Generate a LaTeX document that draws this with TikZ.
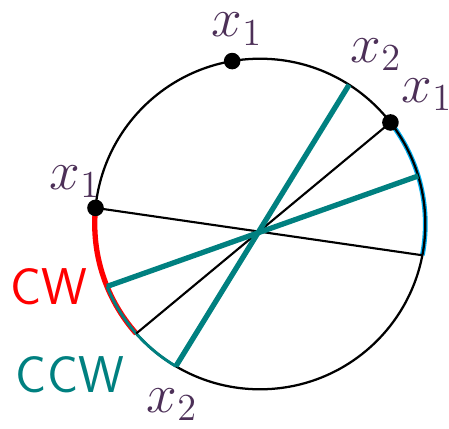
\documentclass[tikz,border=0pt]{standalone}
\usetikzlibrary{positioning}
\definecolor{ptpurple}{RGB}{77,48,88}

\begin{document}
\begin{tikzpicture}[
  ptlabel/.style={font=\huge, text=ptpurple, inner sep=1pt},
  dirlabel/.style={font=\fontsize{19.5}{23}\selectfont\sffamily, inner sep=1pt},
  blackdia/.style={line width=0.8pt},
  tealdia/.style={teal, line width=2pt},
  ptdot/.style={circle, fill=black, inner sep=0pt, minimum size=0.22cm}
]
\def\R{2.19}
\useasboundingbox (-3.445,-2.703) rectangle (2.504,2.968);

% 円周上の点
\coordinate (a1) at (174.4:\R);
\coordinate (b1) at (-10.9:\R);
\coordinate (a2) at (99.7:\R);
\coordinate (a3) at (37.9:\R);
\coordinate (b3) at (221.5:\R);
\coordinate (t1) at (57.4:\R);
\coordinate (s1) at (239.4:\R);
\coordinate (t2) at (16.9:\R);
\coordinate (s2) at (202.2:\R);

\draw[cyan, line width=1.8pt] (a3) arc[start angle=37.9, end angle=-10.9, radius=\R]; %右の弧
\draw[line width=0.85pt] (0,0) circle (\R);
\draw[red, line width=2pt] (a1) arc[start angle=174.4, end angle=221.5, radius=\R]; %CW
\draw[teal, line width=1.1pt] (s2) arc[start angle=202.2, end angle=239.4, radius=\R]; %CCW

\draw[blackdia] (a1) -- (b1);
\draw[blackdia] (a3) -- (b3);
\draw[tealdia] (t1) -- (s1);
\draw[tealdia] (t2) -- (s2);

\node[ptdot] (d1) at (a1) {};
\node[ptdot] (d2) at (a2) {};
\node[ptdot] (d3) at (a3) {};

\node[ptlabel] (l1) at (-2.451,0.557) {$x_1$};
\node[ptlabel] (l2) at (-0.305,2.58) {$x_1$};
\node[ptlabel] (l3) at (2.213,1.710) {$x_1$};
\node[ptlabel] (l4) at (1.537,2.239) {$x_2$};
\node[ptlabel] (l5) at (-1.166,-2.398) {$x_2$};

\node[dirlabel, text=red] (cw) at (-2.796,-0.835) {CW};
\node[dirlabel, text=teal] (ccw) at (-2.518,-2.001) {CCW};

\end{tikzpicture}
\end{document}
